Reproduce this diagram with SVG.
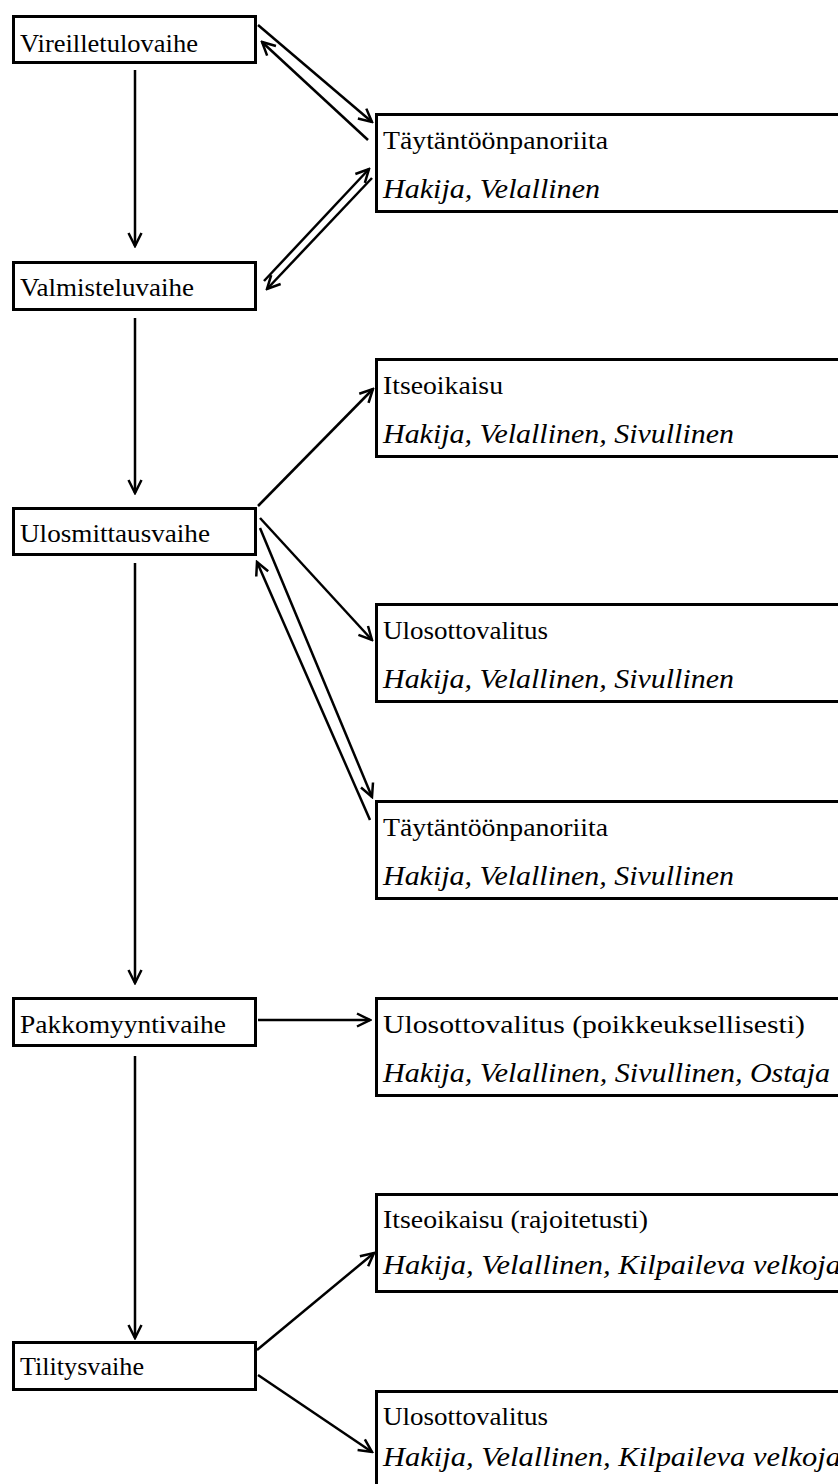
<svg xmlns="http://www.w3.org/2000/svg" width="838" height="1484" viewBox="0 0 838 1484">
<style>
.box{fill:#fff;stroke:#000;stroke-width:3}
text{font-family:"Liberation Serif","Times New Roman","DejaVu Serif",serif;font-size:26px;fill:#000}
.i{font-style:italic;font-size:27px}
.c{stroke:#000;stroke-width:2.5;fill:none}
</style>
<defs>
<marker id="ah" markerUnits="userSpaceOnUse" markerWidth="18" markerHeight="18" viewBox="0 0 18 18" refX="16" refY="9" orient="auto">
<path d="M3,2.5 L16,9 L3,15.5" fill="none" stroke="#000" stroke-width="2.5"/>
</marker>
</defs>
<rect width="838" height="1484" fill="#fff"/>
<g id="connectors">
<line class="c" x1="135" y1="70" x2="135" y2="246" marker-end="url(#ah)"/>
<line class="c" x1="135" y1="318" x2="135" y2="493" marker-end="url(#ah)"/>
<line class="c" x1="135" y1="563" x2="135" y2="983" marker-end="url(#ah)"/>
<line class="c" x1="135" y1="1056" x2="135" y2="1338" marker-end="url(#ah)"/>
<line class="c" x1="258" y1="1020" x2="370" y2="1020" marker-end="url(#ah)"/>
<line class="c" x1="258" y1="25" x2="372" y2="122" marker-end="url(#ah)"/>
<line class="c" x1="368" y1="140" x2="262" y2="42" marker-end="url(#ah)"/>
<line class="c" x1="264" y1="281" x2="369" y2="169" marker-end="url(#ah)"/>
<line class="c" x1="372" y1="178" x2="267" y2="289" marker-end="url(#ah)"/>
<line class="c" x1="258" y1="506" x2="373" y2="389" marker-end="url(#ah)"/>
<line class="c" x1="260" y1="518" x2="372" y2="640" marker-end="url(#ah)"/>
<line class="c" x1="260" y1="528" x2="372" y2="797" marker-end="url(#ah)"/>
<line class="c" x1="370" y1="820" x2="257" y2="562" marker-end="url(#ah)"/>
<line class="c" x1="257" y1="1350" x2="374" y2="1253" marker-end="url(#ah)"/>
<line class="c" x1="258" y1="1375" x2="372" y2="1452" marker-end="url(#ah)"/>
</g>
<g id="n-vireilletulo"><rect class="box" x="13.5" y="16.5" width="242" height="46"/><text x="20" y="52" textLength="178" lengthAdjust="spacingAndGlyphs">Vireilletulovaihe</text></g>
<g id="n-valmistelu"><rect class="box" x="13.5" y="262.5" width="242" height="47"/><text x="20" y="296" textLength="174" lengthAdjust="spacingAndGlyphs">Valmisteluvaihe</text></g>
<g id="n-ulosmittaus"><rect class="box" x="13.5" y="508.5" width="242" height="46"/><text x="20" y="542" textLength="190" lengthAdjust="spacingAndGlyphs">Ulosmittausvaihe</text></g>
<g id="n-pakkomyynti"><rect class="box" x="13.5" y="998.5" width="242" height="47"/><text x="20" y="1033" textLength="206" lengthAdjust="spacingAndGlyphs">Pakkomyyntivaihe</text></g>
<g id="n-tilitys"><rect class="box" x="13.5" y="1342.5" width="242" height="47"/><text x="20" y="1375" textLength="124" lengthAdjust="spacingAndGlyphs">Tilitysvaihe</text></g>
<g id="n-riita1"><rect class="box" x="376.5" y="114.5" width="480" height="97"/><text x="383" y="149" textLength="225" lengthAdjust="spacingAndGlyphs">Täytäntöönpanoriita</text><text class="i" x="383" y="198" textLength="217" lengthAdjust="spacingAndGlyphs">Hakija, Velallinen</text></g>
<g id="n-itseoikaisu"><rect class="box" x="376.5" y="359.5" width="480" height="97"/><text x="383" y="394" textLength="120" lengthAdjust="spacingAndGlyphs">Itseoikaisu</text><text class="i" x="383" y="443" textLength="351" lengthAdjust="spacingAndGlyphs">Hakija, Velallinen, Sivullinen</text></g>
<g id="n-valitus1"><rect class="box" x="376.5" y="604.5" width="480" height="97"/><text x="383" y="639" textLength="165" lengthAdjust="spacingAndGlyphs">Ulosottovalitus</text><text class="i" x="383" y="688" textLength="351" lengthAdjust="spacingAndGlyphs">Hakija, Velallinen, Sivullinen</text></g>
<g id="n-riita2"><rect class="box" x="376.5" y="801.5" width="480" height="97"/><text x="383" y="836" textLength="225" lengthAdjust="spacingAndGlyphs">Täytäntöönpanoriita</text><text class="i" x="383" y="885" textLength="351" lengthAdjust="spacingAndGlyphs">Hakija, Velallinen, Sivullinen</text></g>
<g id="n-valitus2"><rect class="box" x="376.5" y="998.5" width="480" height="97"/><text x="383" y="1033" textLength="422" lengthAdjust="spacingAndGlyphs">Ulosottovalitus (poikkeuksellisesti)</text><text class="i" x="383" y="1082" textLength="447" lengthAdjust="spacingAndGlyphs">Hakija, Velallinen, Sivullinen, Ostaja</text></g>
<g id="n-itseoikaisu2"><rect class="box" x="376.5" y="1194.5" width="480" height="97"/><text x="383" y="1228" textLength="265" lengthAdjust="spacingAndGlyphs">Itseoikaisu (rajoitetusti)</text><text class="i" x="383" y="1274" textLength="458" lengthAdjust="spacingAndGlyphs">Hakija, Velallinen, Kilpaileva velkoja</text></g>
<g id="n-valitus3"><rect class="box" x="376.5" y="1391.5" width="480" height="120"/><text x="383" y="1425" textLength="165" lengthAdjust="spacingAndGlyphs">Ulosottovalitus</text><text class="i" x="383" y="1466" textLength="458" lengthAdjust="spacingAndGlyphs">Hakija, Velallinen, Kilpaileva velkoja</text></g>
</svg>
